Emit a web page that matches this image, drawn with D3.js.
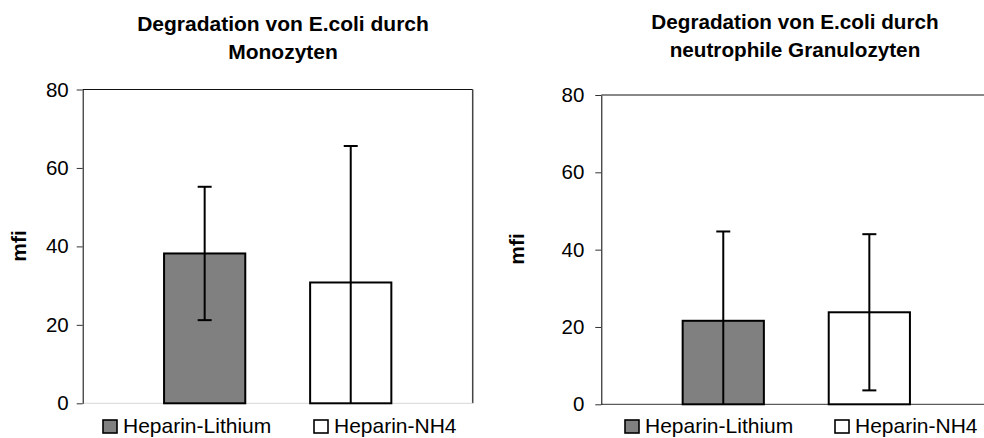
<!DOCTYPE html>
<html>
<head>
<meta charset="utf-8">
<script src="https://cdn.jsdelivr.net/npm/d3@7"></script>
<style>
  html, body { margin: 0; padding: 0; background: #fff; }
  svg { display: block; font-family: Arial, "Liberation Sans", sans-serif; }
</style>
</head>
<body>
<svg id="chart" width="984" height="438"></svg>
<script>
// ---- data ----
const categories = ["Heparin-Lithium", "Heparin-NH4"];
const monoMeans = [38.2, 30.8];
const monoErrors = [17.0, 34.8];
const granMeans = [21.6, 23.8];
const granErrors = [23.1, 20.2];
const yTicks = [0, 20, 40, 60, 80];
const titleMono = ["Degradation von E.coli durch", "Monozyten"];
const titleGran = ["Degradation von E.coli durch", "neutrophile Granulozyten"];
const yLabel = "mfi";
const fills = ["#808080", "#ffffff"];

const svg = d3.select("#chart");

function drawPanel(cfg) {
  const g = svg.append("g");
  const y = d3.scaleLinear().domain([0, 80]).range([cfg.bottom, cfg.top]);
  const x = d3.scaleBand().domain(categories)
    .range([cfg.left, cfg.left + 390]).paddingInner(0.444).paddingOuter(0.557);

  // frame
  g.append("line").attr("x1", cfg.left).attr("x2", cfg.left + 390)
    .attr("y1", y(80)).attr("y2", y(80))
    .attr("stroke", cfg.topColor).attr("stroke-width", cfg.topWidth);
  if (cfg.rightBorder) {
    g.append("line").attr("x1", cfg.left + 390).attr("x2", cfg.left + 390)
      .attr("y1", y(80)).attr("y2", y(0))
      .attr("stroke", "#444").attr("stroke-width", 1.5);
  }
  g.append("line").attr("x1", cfg.left).attr("x2", cfg.left + 390)
    .attr("y1", y(0)).attr("y2", y(0))
    .attr("stroke", cfg.bottomColor).attr("stroke-width", 1);

  // bars
  const means = cfg.means, errs = cfg.errors;
  g.selectAll("rect.bar").data(categories).join("rect")
    .attr("class", "bar")
    .attr("x", d => x(d))
    .attr("width", x.bandwidth())
    .attr("y", (d, i) => y(means[i]))
    .attr("height", (d, i) => y(0) - y(means[i]))
    .attr("fill", (d, i) => fills[i])
    .attr("stroke", "#000").attr("stroke-width", 2);

  // error bars
  categories.forEach((c, i) => {
    const cx = x(c) + x.bandwidth() / 2;
    const hi = means[i] + errs[i];
    const lo = Math.max(0, means[i] - errs[i]);
    g.append("line").attr("x1", cx).attr("x2", cx)
      .attr("y1", y(hi)).attr("y2", y(lo))
      .attr("stroke", "#000").attr("stroke-width", 2);
    g.append("line").attr("x1", cx - 7).attr("x2", cx + 7)
      .attr("y1", y(hi)).attr("y2", y(hi))
      .attr("stroke", "#000").attr("stroke-width", 2);
    if (lo > 0) {
      g.append("line").attr("x1", cx - 7).attr("x2", cx + 7)
        .attr("y1", y(lo)).attr("y2", y(lo))
        .attr("stroke", "#000").attr("stroke-width", 2);
    }
  });

  // y axis
  const ax = g.append("g").attr("transform", `translate(${cfg.left},0)`)
    .call(d3.axisLeft(y).tickValues(yTicks).tickSize(6).tickPadding(cfg.tickPad).tickSizeOuter(0));
  ax.select(".domain").attr("stroke", "#000").attr("stroke-width", 1);
  ax.selectAll(".tick line").attr("stroke", "#333");
  ax.selectAll(".tick text").attr("font-size", 20.5).attr("fill", "#000")
    .attr("font-family", "Arial, 'Liberation Sans', sans-serif");

  // y label
  g.append("text").attr("transform", `translate(${cfg.ylabX},${cfg.ylabY}) rotate(-90)`)
    .attr("text-anchor", "middle").attr("font-size", 21).attr("font-weight", "bold")
    .text(yLabel);

  // title
  cfg.title.forEach((t, k) => {
    g.append("text").attr("x", cfg.titleX).attr("y", cfg.titleY + k * 28.5)
      .attr("text-anchor", "middle").attr("font-size", cfg.titleSize).attr("font-weight", "bold")
      .text(t);
  });

  // legend
  categories.forEach((c, i) => {
    const lx = cfg.legendX[i];
    g.append("rect").attr("x", lx).attr("y", 420).attr("width", 14).attr("height", 13)
      .attr("fill", fills[i]).attr("stroke", "#000").attr("stroke-width", 1.6);
    g.append("text").attr("x", lx + 20).attr("y", 433).attr("font-size", 21).text(c);
  });
}

drawPanel({
  left: 82.7, top: 89.5, bottom: 403.3,
  means: monoMeans, errors: monoErrors, title: titleMono,
  titleX: 283, titleY: 30.5, titleSize: 21,
  topColor: "#111", topWidth: 1.2, rightBorder: true, bottomColor: "#d8d8d8",
  tickPad: 8, ylabX: 26, ylabY: 246,
  legendX: [103, 314]
});

drawPanel({
  left: 601.3, top: 95, bottom: 404.3,
  means: granMeans, errors: granErrors, title: titleGran,
  titleX: 795, titleY: 28.8, titleSize: 20.7,
  topColor: "#888", topWidth: 2.2, rightBorder: false, bottomColor: "#333",
  tickPad: 11, ylabX: 524, ylabY: 249,
  legendX: [625, 835]
});
</script>
</body>
</html>
